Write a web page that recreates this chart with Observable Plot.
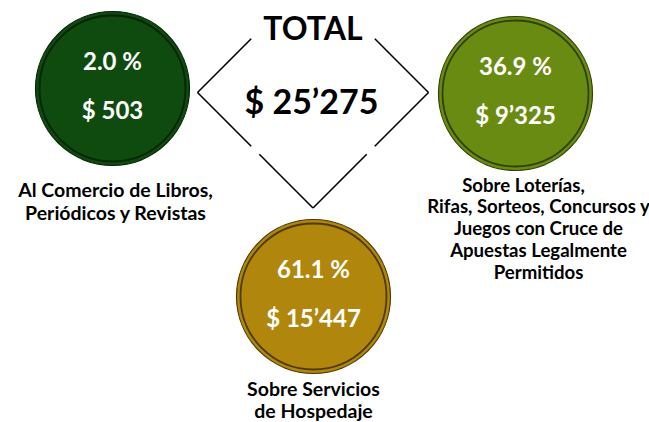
<!DOCTYPE html>
<html>
<head>
<meta charset="utf-8">
<script src="https://cdn.jsdelivr.net/npm/d3@7"></script>
<script src="https://cdn.jsdelivr.net/npm/@observablehq/plot@0.6"></script>
<style>
  html, body { margin: 0; padding: 0; background: #fff; }
  #chart svg { display: block; }
</style>
</head>
<body>
<div id="chart"></div>
<script>
// ---- data ----
const categories = ["Libros", "Hospedaje", "Loterias"];
const percents = ["2.0 %", "61.1 %", "36.9 %"];
const amounts = ["$ 503", "$ 15’447", "$ 9’325"];
const labelLines = [
  ["Al Comercio de Libros,", "Periódicos y Revistas"],
  ["Sobre Servicios", "de Hospedaje"],
  ["Sobre Loterías,", "Rifas, Sorteos, Concursos y", "Juegos con Cruce de", "Apuestas Legalmente", "Permitidos"]
];
const totalTitle = "TOTAL";
const totalAmount = "$ 25’275";
const fills = ["#0f4a0f", "#b0870c", "#6a8b12"];
const rings = ["#042404", "#4e3a02", "#2f4105"];

// ---- layout (positions) ----
const layout = {
  Libros:    {cx: 112, cy: 88,  labelX: 115, labelY: 196, gap: 23.5, size: 19.5},
  Hospedaje: {cx: 313, cy: 296, labelX: 313, labelY: 395, gap: 22, size: 19.5},
  Loterias:  {cx: 515, cy: 93,  labelX: 538, labelY: 191, gap: 21.8, size: 18.6}
};
const R = 77;

const circles = categories.map((c, i) => ({
  cat: c, x: layout[c].cx, y: layout[c].cy, fill: fills[i], ring: rings[i],
  pct: percents[i], amt: amounts[i]
}));
const labels = categories.flatMap((c, i) => labelLines[i].map((t, j) => ({
  text: t, size: layout[c].size,
  x: layout[c].labelX + (c === "Loterias" && j === 0 ? -15 : 0), y: layout[c].labelY + j * layout[c].gap
})));

// diamond
const dc = {x: 312.5, y: 92, h: 115.5};
const L = [dc.x - dc.h, dc.y], Rt = [dc.x + dc.h, dc.y], B = [dc.x, dc.y + dc.h], T = [dc.x, dc.y - dc.h];
const lerp = (a, b, t) => [a[0] + (b[0] - a[0]) * t, a[1] + (b[1] - a[1]) * t];
const segs = [
  [L, lerp(L, T, 0.465)],
  [Rt, lerp(Rt, T, 0.465)],
  [L, lerp(L, B, 0.465)],
  [lerp(L, B, 0.535), B],
  [Rt, lerp(Rt, B, 0.465)],
  [lerp(Rt, B, 0.535), B]
].map(([a, b]) => ({x1: a[0], y1: a[1], x2: b[0], y2: b[1]}));

const font = "Lato, 'Open Sans', sans-serif";

const chart = Plot.plot({
  width: 649,
  height: 422,
  margin: 0,
  x: {domain: [0, 649], range: [0, 649], axis: null},
  y: {domain: [0, 422], range: [0, 422], axis: null},
  style: {background: "#fff", fontFamily: font},
  marks: [
    Plot.link(segs, {x1: "x1", y1: "y1", x2: "x2", y2: "y2", stroke: "#000", strokeWidth: 1.6}),
    Plot.dot(circles, {x: "x", y: "y", r: R, fill: "fill", stroke: "ring", strokeWidth: 1.2}),
    Plot.dot(circles, {x: "x", y: "y", r: R - 4, fill: "none", stroke: "ring", strokeWidth: 1.8}),
    Plot.text(circles, {x: "x", y: (d) => d.y - 19, text: "pct", fill: "#fff", fontSize: 24, fontWeight: "bold", lineAnchor: "bottom", fontFamily: font}),
    Plot.text(circles, {x: "x", y: (d) => d.y + 30, text: "amt", fill: "#fff", fontSize: 24, fontWeight: "bold", lineAnchor: "bottom", fontFamily: font}),
    Plot.text(labels, {x: "x", y: "y", text: "text", fill: "#000", fontSize: (d) => d.size, fontWeight: "bold", lineAnchor: "bottom", fontFamily: font}),
    Plot.text([totalTitle], {x: 312.5, y: 39, text: (d) => d, fill: "#000", fontSize: 32, fontWeight: "bold", lineAnchor: "bottom", fontFamily: font}),
    Plot.text([totalAmount], {x: 311, y: 113, text: (d) => d, fill: "#000", fontSize: 34, fontWeight: "bold", lineAnchor: "bottom", fontFamily: font})
  ]
});
document.getElementById("chart").append(chart);
</script>
</body>
</html>
